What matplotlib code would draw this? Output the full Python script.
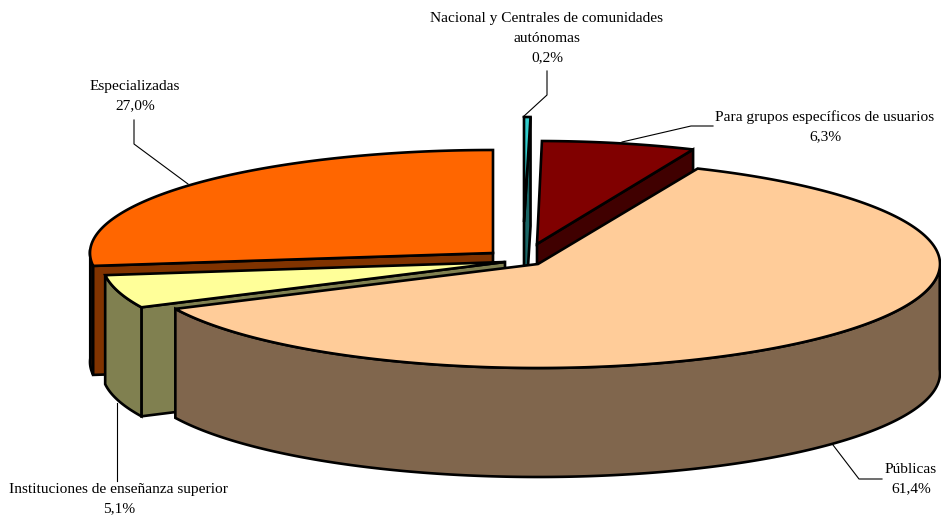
import matplotlib
matplotlib.use('Agg')
import matplotlib.pyplot as plt
from matplotlib.patches import Polygon
import numpy as np

plt.rcParams['font.family'] = ['Liberation Serif', 'DejaVu Serif']

# data, clockwise from 12 o'clock
names = ["Nacional y Centrales de comunidades\nautónomas", "Para grupos específicos de usuarios",
         "Públicas", "Instituciones de enseñanza superior", "Especializadas"]
values = [0.2, 6.3, 61.4, 5.1, 27.0]

# colours
TOPS  = ["#33CCCC", "#800000", "#FFCC99", "#FFFF99", "#FF6600"]
SIDES = ["#1A6666", "#400000", "#80664D", "#808050", "#803300"]

# layout in pixels (exploded slice apexes, radii per slice)
APEX = [(524, 222), (537, 244), (538, 264), (505, 262), (493, 253)]
RX = [520, 393, 402, 403, 403]  # first one wider, the sliver would vanish under its outline
RY = [105, 103, 104, 105, 103]
DEPTH = 109
LW = 1.9

LABEL_POS = [(547, 38), (825, 127), (911, 479), (119, 499), (135, 96)]
LEADERS = [
    [(523, 117), (547, 95), (547, 71)],
    [(622, 142), (691, 126), (713, 126)],
    [(833, 445), (859, 479), (882, 479)],
    [(117, 403), (117, 481)],
    [(188, 184), (134, 144), (134, 120)],
]

fig = plt.figure(figsize=(9.41, 5.21), dpi=100, facecolor="white")
ax = fig.add_axes([0, 0, 1, 1])
ax.set_xlim(0, 941)
ax.set_ylim(521, 0)
ax.axis("off")

edges = np.concatenate([[0], np.cumsum(values)]) * 3.6


def rim(i, a0, a1, drop=0):
    t = np.radians(np.linspace(a0, a1, max(int(abs(a1 - a0)) * 2, 2)))
    return np.column_stack([APEX[i][0] + RX[i] * np.sin(t),
                            APEX[i][1] - RY[i] * np.cos(t) + drop])


def face(pts, color, z):
    ax.add_patch(Polygon(pts, closed=True, facecolor=color, edgecolor="black",
                         linewidth=LW, joinstyle="miter", zorder=z))


def radial_side(i, a, color, z):
    p = rim(i, a, a)[0]
    x, y = APEX[i]
    face([p, (x, y), (x, y + DEPTH), (p[0], p[1] + DEPTH)], color, z)


def wall(i, a0, a1, color, z):
    face(np.vstack([rim(i, a0, a1), rim(i, a1, a0, DEPTH)]), color, z)


def top(i, color, z):
    face(np.vstack([[APEX[i]], rim(i, edges[i], edges[i + 1])]), color, z)


# back to front: Nacional, Grupos, Especializadas, Instituciones, Publicas
radial_side(0, edges[1], SIDES[0], 1)
top(0, TOPS[0], 2)

radial_side(1, edges[2], SIDES[1], 3)
top(1, TOPS[1], 4)

wall(4, edges[4], 272, "#2A1100", 5)
radial_side(4, edges[4], SIDES[4], 6)
top(4, TOPS[4], 7)

radial_side(3, edges[3], SIDES[3], 8)
wall(3, edges[3], edges[4], SIDES[3], 9)
top(3, TOPS[3], 10)

wall(2, 88, edges[3], SIDES[2], 11)
top(2, TOPS[2], 12)

# labels and leader lines
for name, val, (x, y), line in zip(names, values, LABEL_POS, LEADERS):
    ax.text(x, y, f"{name}\n{val:.1f}%".replace(".", ","), ha="center", va="center",
            fontsize=11.1, color="black", linespacing=1.65, zorder=20)
    xs, ys = zip(*line)
    ax.plot(xs, ys, color="black", lw=0.8, zorder=0.5)

fig.savefig("out.png", dpi=100, facecolor="white")
